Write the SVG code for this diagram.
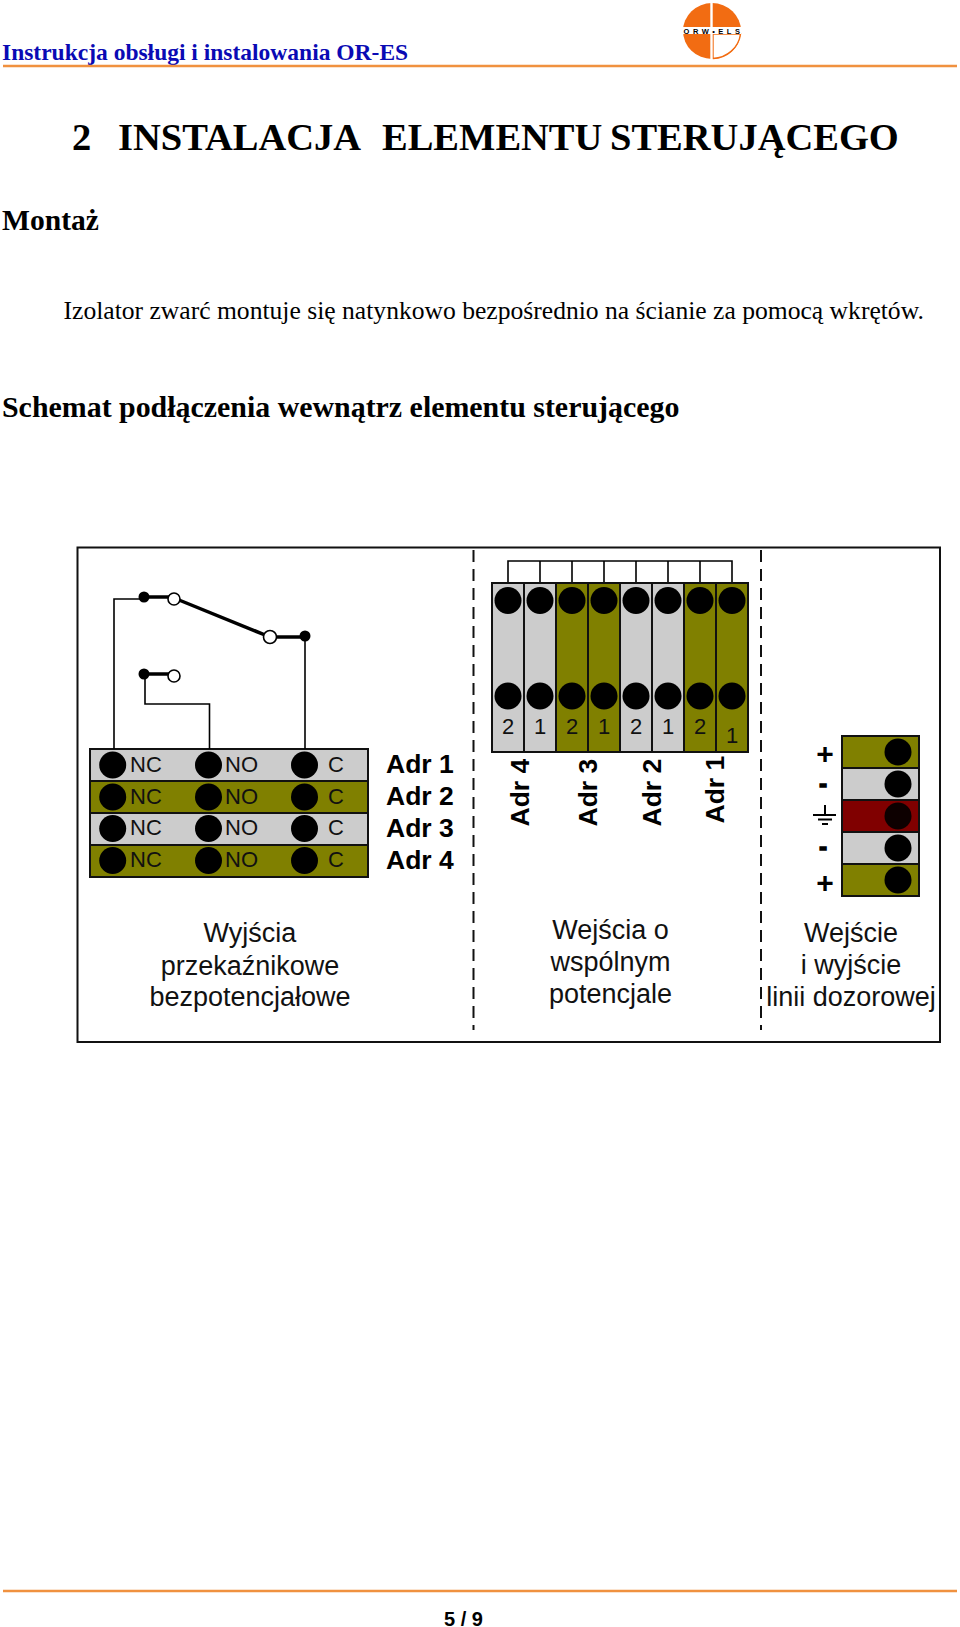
<svg xmlns="http://www.w3.org/2000/svg" width="960" height="1627" viewBox="0 0 960 1627">
<style>
text{font-family:"Liberation Serif","Times New Roman",serif;fill:#000}
.s{font-family:"Liberation Sans",Arial,sans-serif}
.b{font-weight:bold}
.t{font-size:22px;fill:#111}
.a{font-family:"Liberation Sans",Arial,sans-serif;font-weight:bold;font-size:26.5px}
.p{font-family:"Liberation Sans",Arial,sans-serif;font-weight:bold;font-size:30px;text-anchor:middle}
.m{font-family:"Liberation Sans",Arial,sans-serif;font-weight:bold;font-size:23px;text-anchor:middle;stroke:#000;stroke-width:1.600}
.c{font-family:"Liberation Sans",Arial,sans-serif;font-size:27px;text-anchor:middle;fill:#111}
.n{font-family:"Liberation Sans",Arial,sans-serif;font-size:22px;text-anchor:middle;fill:#111}
.g{fill:#cccccc;stroke:#111;stroke-width:2}
.o{fill:#808000;stroke:#111;stroke-width:2}
.r{fill:#800000;stroke:#111;stroke-width:2}
.d{fill:#000}
.w{fill:none;stroke:#000;stroke-width:1.600}
.h{fill:none;stroke:#000;stroke-width:3.500}
.v{fill:#fff;stroke:#000;stroke-width:1.600}
.da{stroke:#111;stroke-width:2;stroke-dasharray:12 7;fill:none}
.rule{stroke:#f0913f;stroke-width:2.400;fill:none}
</style>
<g id="header">
<text x="2" y="60" class="b" font-size="23.500" style="fill:#0a0ab4">Instrukcja obsługi i instalowania OR-ES</text>
<line class="rule" x1="3" y1="66" x2="957" y2="66"/>
<g id="logo">
<ellipse cx="712" cy="31" rx="29" ry="28" fill="#f26c12"/>
<path d="M713 34H740.500A29 28 0 0 1 713 58.500Z" fill="#fff" stroke="#f26c12" stroke-width="1.400"/>
<rect x="683" y="27" width="58" height="7" fill="#fff"/>
<rect x="710.300" y="2" width="2.400" height="58" fill="#fff"/>
<text x="713.500" y="33.500" class="s b" font-size="7.500" text-anchor="middle" letter-spacing="3.500">ORW•ELS</text>
</g>
</g>
<text y="150" class="b" font-size="38.500"><tspan x="72">2</tspan><tspan x="118">INSTALACJA</tspan><tspan x="382">ELEMENTU</tspan><tspan x="610">STERUJĄCEGO</tspan></text>
<text x="2" y="230" class="b" font-size="29.600">Montaż</text>
<text x="63.500" y="318.500" font-size="25.600">Izolator zwarć montuje się natynkowo bezpośrednio na ścianie za pomocą wkrętów.</text>
<text x="2" y="417" class="b" font-size="29.900">Schemat podłączenia wewnątrz elementu sterującego</text>
<rect id="frame" x="77.500" y="547.500" width="862.500" height="494.500" fill="none" stroke="#111" stroke-width="2"/>
<g id="separators">
<line class="da" x1="473.500" y1="550" x2="473.500" y2="1030"/>
<line class="da" x1="761" y1="550" x2="761" y2="1030"/>
</g>
<g id="relay-rows">
<rect class="g" x="90" y="749" width="278" height="32"/>
<rect class="o" x="90" y="781" width="278" height="32"/>
<rect class="g" x="90" y="813" width="278" height="32"/>
<rect class="o" x="90" y="845" width="278" height="32"/>
<g class="d">
<circle cx="112.700" cy="765" r="13.500"/><circle cx="208.500" cy="765" r="13.500"/><circle cx="304.500" cy="765" r="13.500"/>
<circle cx="112.700" cy="797" r="13.500"/><circle cx="208.500" cy="797" r="13.500"/><circle cx="304.500" cy="797" r="13.500"/>
<circle cx="112.700" cy="828.500" r="13.500"/><circle cx="208.500" cy="828.500" r="13.500"/><circle cx="304.500" cy="828.500" r="13.500"/>
<circle cx="112.700" cy="860.500" r="13.500"/><circle cx="208.500" cy="860.500" r="13.500"/><circle cx="304.500" cy="860.500" r="13.500"/>
</g>
<g>
<text class="s t" x="130" y="771.500">NC</text><text class="s t" x="225" y="771.500">NO</text><text class="s t" x="328" y="771.500">C</text>
<text class="s t" x="130" y="803.500">NC</text><text class="s t" x="225" y="803.500">NO</text><text class="s t" x="328" y="803.500">C</text>
<text class="s t" x="130" y="835">NC</text><text class="s t" x="225" y="835">NO</text><text class="s t" x="328" y="835">C</text>
<text class="s t" x="130" y="867">NC</text><text class="s t" x="225" y="867">NO</text><text class="s t" x="328" y="867">C</text>
</g>
<text class="a" x="386" y="772.500">Adr 1</text>
<text class="a" x="386" y="804.500">Adr 2</text>
<text class="a" x="386" y="836.500">Adr 3</text>
<text class="a" x="386" y="868.500">Adr 4</text>
<text class="c" x="250" y="942">Wyjścia</text>
<text class="c" x="250" y="974.500">przekaźnikowe</text>
<text class="c" x="250" y="1006">bezpotencjałowe</text>
</g>
<g id="connectors">
<path class="w" d="M114 749V599H144"/>
<path class="w" d="M305 749V636"/>
<path class="w" d="M145 674V704H209.500V749"/>
<path class="h" d="M144 597H174"/>
<path class="h" d="M179 600L270 637"/>
<path class="h" d="M270 637H305"/>
<path class="h" d="M144 674H174"/>
<path class="w" d="M508 583V561H732V583M540 561V583M572 561V583M604 561V583M636 561V583M668 561V583M700 561V583"/>
</g>
<g id="switch-contacts">
<circle class="d" cx="144" cy="597" r="5.500"/><circle class="v" cx="174" cy="599" r="6"/>
<circle class="v" cx="270" cy="637" r="6.500"/><circle class="d" cx="305" cy="636" r="5.500"/>
<circle class="d" cx="144" cy="674" r="5.500"/><circle class="v" cx="174" cy="676" r="6"/>
</g>
<g id="address-block">
<rect class="g" x="492" y="583" width="32" height="169"/><rect class="g" x="524" y="583" width="32" height="169"/>
<rect class="o" x="556" y="583" width="32" height="169"/><rect class="o" x="588" y="583" width="32" height="169"/>
<rect class="g" x="620" y="583" width="32" height="169"/><rect class="g" x="652" y="583" width="32" height="169"/>
<rect class="o" x="684" y="583" width="32" height="169"/><rect class="o" x="716" y="583" width="32" height="169"/>
<g class="d">
<circle cx="508" cy="600.500" r="13.500"/><circle cx="540" cy="600.500" r="13.500"/><circle cx="572" cy="600.500" r="13.500"/><circle cx="604" cy="600.500" r="13.500"/><circle cx="636" cy="600.500" r="13.500"/><circle cx="668" cy="600.500" r="13.500"/><circle cx="700" cy="600.500" r="13.500"/><circle cx="732" cy="600.500" r="13.500"/>
<circle cx="508" cy="696" r="13.500"/><circle cx="540" cy="696" r="13.500"/><circle cx="572" cy="696" r="13.500"/><circle cx="604" cy="696" r="13.500"/><circle cx="636" cy="696" r="13.500"/><circle cx="668" cy="696" r="13.500"/><circle cx="700" cy="696" r="13.500"/><circle cx="732" cy="696" r="13.500"/>
</g>
<text class="n" x="508" y="733.500">2</text><text class="n" x="540" y="733.500">1</text><text class="n" x="572" y="733.500">2</text><text class="n" x="604" y="733.500">1</text><text class="n" x="636" y="733.500">2</text><text class="n" x="668" y="733.500">1</text><text class="n" x="700" y="733.500">2</text><text class="n" x="732" y="743">1</text>
<text class="a" transform="translate(529 826.500) rotate(-90)">Adr 4</text>
<text class="a" transform="translate(597 826.500) rotate(-90)">Adr 3</text>
<text class="a" transform="translate(661 826.500) rotate(-90)">Adr 2</text>
<text class="a" transform="translate(724 823.500) rotate(-90)">Adr 1</text>
<text class="c" x="610.500" y="939">Wejścia o</text>
<text class="c" x="610.500" y="971">wspólnym</text>
<text class="c" x="610.500" y="1003">potencjale</text>
</g>
<g id="line-block">
<rect class="o" x="842" y="736" width="77" height="32"/>
<rect class="g" x="842" y="768" width="77" height="32"/>
<rect class="r" x="842" y="800" width="77" height="32"/>
<rect class="g" x="842" y="832" width="77" height="32"/>
<rect class="o" x="842" y="864" width="77" height="32"/>
<g class="d">
<circle cx="898" cy="752" r="13.500"/><circle cx="898" cy="784" r="13.500"/><circle cx="898" cy="816" r="13.500" opacity=".9"/><circle cx="898" cy="848" r="13.500"/><circle cx="898" cy="880" r="13.500"/>
</g>
<path d="M825 805V815M813 815H836M818 819.500H832M822 824H828" fill="none" stroke="#000" stroke-width="2"/>
<text class="p" x="825" y="764">+</text>
<text class="m" x="823" y="791.500">-</text>
<text class="m" x="823" y="854.500">-</text>
<text class="p" x="825" y="892.500">+</text>
<text class="c" x="851" y="942">Wejście</text>
<text class="c" x="851" y="974">i wyjście</text>
<text class="c" x="851" y="1006">linii dozorowej</text>
</g>
<g id="footer">
<line class="rule" x1="3" y1="1591" x2="957" y2="1591"/>
<text class="s b" x="444" y="1625.500" font-size="20">5 / 9</text>
</g>
</svg>
